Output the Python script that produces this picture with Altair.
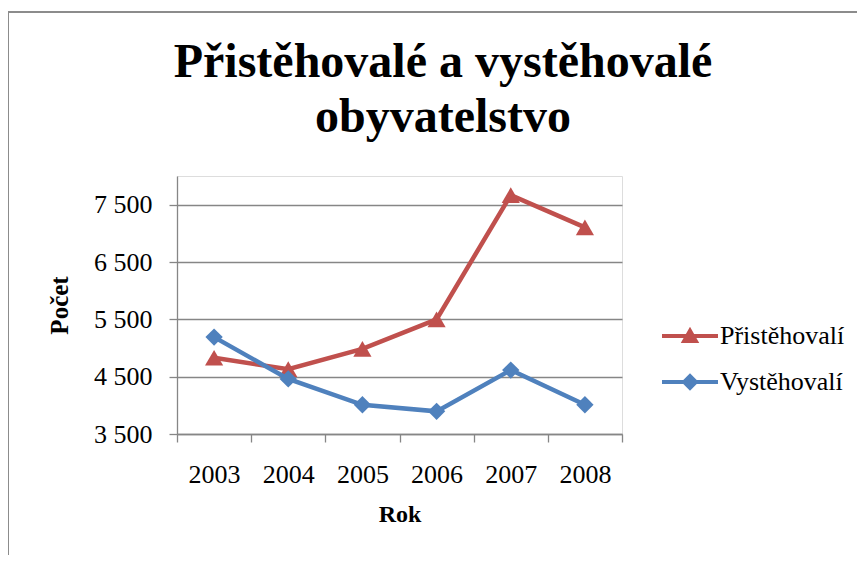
import altair as alt
import pandas as pd

years = ["2003", "2004", "2005", "2006", "2007", "2008"]
pristehovali = [4830, 4630, 4985, 5500, 7665, 7105]
vystehovali = [5190, 4460, 4010, 3895, 4615, 4010]
series_names = ["Přistěhovalí", "Vystěhovalí"]
series_colors = ["#C0504D", "#4F81BD"]
series_shapes = ["triangle-up", "diamond"]
y_ticks = [3500, 4500, 5500, 6500, 7500]
title_lines = "Přistěhovalé a vystěhovalé\nobyvatelstvo"

rows = []
for name, vals in zip(series_names, [pristehovali, vystehovali]):
    for yr, v in zip(years, vals):
        rows.append({"Rok": yr, "Serie": name, "Pocet": v})
df = pd.DataFrame(rows)

FONT = "Liberation Serif"
GRID = "#868686"
W, H = 445, 258
PL, PT = 169, 168
TOTAL_W, TOTAL_H = 849, 547

x_enc = alt.X(
    "Rok:O",
    scale=alt.Scale(type="band", paddingInner=0, paddingOuter=0),
    axis=alt.Axis(
        title="Rok", tickBand="extent", labelAngle=0, grid=False,
        domainColor=GRID, domainWidth=1.3, tickColor=GRID, tickWidth=1.3, tickSize=8,
        labelFont=FONT, labelFontSize=26, labelColor="black", labelPadding=19,
        titleFont=FONT, titleFontSize=24, titleFontWeight="bold", titleColor="black",
        titlePadding=15,
    ),
)
y_enc = alt.Y(
    "Pocet:Q",
    scale=alt.Scale(domain=[3500, 8000], nice=False, zero=False),
    axis=alt.Axis(
        title="Počet", values=y_ticks,
        labelExpr="replace(format(datum.value, ','), ',', ' ')",
        grid=True, gridColor=GRID, gridWidth=1.3,
        domainColor=GRID, domainWidth=1.3, tickColor=GRID, tickWidth=1.3, tickSize=8,
        labelFont=FONT, labelFontSize=26, labelColor="black", labelPadding=17,
        titleFont=FONT, titleFontSize=25, titleFontWeight="bold", titleColor="black",
        titlePadding=21,
    ),
)

# legend symbols: line segment with marker (custom SVG paths)
tri_path = "M-1,-0.075H1V0.075H-1Z M0,-0.33L0.33,0.25L-0.33,0.25Z"
dia_path = "M-1,-0.075H1V0.075H-1Z M0,-0.31L0.31,0L0,0.31L-0.31,0Z"

legend = alt.Legend(
    title=None, orient="none", legendX=485, legendY=132, padding=0,
    symbolSize=3136, symbolStrokeWidth=0, symbolOpacity=1, labelOffset=2, rowPadding=5,
    labelFont=FONT, labelFontSize=26, labelColor="black",
)

base = alt.Chart(df)
layers = []
for name, col, shp, shp_size in zip(series_names, series_colors, series_shapes, [330, 300]):
    sub = base.transform_filter(alt.datum.Serie == name)
    layers.append(sub.mark_line(strokeWidth=4.5, color=col).encode(x=x_enc, y=y_enc))
    layers.append(
        sub.mark_point(filled=True, size=shp_size, opacity=1, color=col, shape=shp).encode(x=x_enc, y=y_enc)
    )

legend_layer = base.transform_filter("false").mark_point(filled=True, opacity=1).encode(
    x=x_enc, y=y_enc,
    color=alt.Color("Serie:N", scale=alt.Scale(domain=series_names, range=series_colors), legend=legend),
    shape=alt.Shape("Serie:N", scale=alt.Scale(domain=series_names, range=[tri_path, dia_path]), legend=legend),
)

one = alt.Chart(pd.DataFrame({"k": [0]}))
frame = one.mark_rect(fill="transparent", stroke="#8c8c8c", strokeWidth=2).encode(
    x=alt.value(-PL), x2=alt.value(TOTAL_W + 50), y=alt.value(-164), y2=alt.value(TOTAL_H + 50)
)
title = one.mark_text(
    font=FONT, fontSize=48, fontWeight="bold", align="center", baseline="alphabetic",
    lineBreak="\n", lineHeight=55, color="black",
).encode(x=alt.value(266), y=alt.value(-99), text=alt.value(title_lines))

chart = alt.layer(frame, title, *layers, legend_layer).properties(
    width=W, height=H,
    padding={"left": PL, "top": PT, "right": TOTAL_W - PL - W, "bottom": TOTAL_H - PT - H},
    autosize=alt.AutoSizeParams(type="none"),
).configure_view(stroke=None).configure(background="white")

chart.save("out.html", embed_options={"renderer": "svg", "actions": False})
